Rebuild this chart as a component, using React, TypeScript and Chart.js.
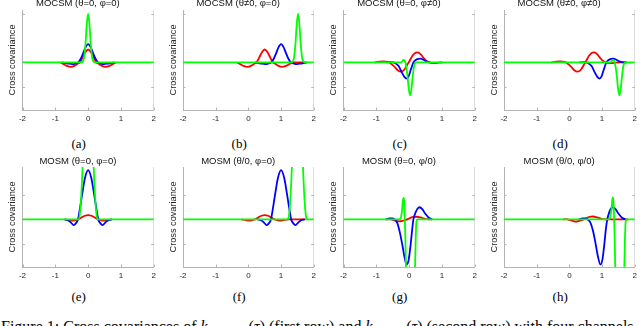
import React, { useEffect, useRef } from "react";
import { Chart, registerables } from "chart.js";

Chart.register(...registerables);

type Pt = [number, number];

// ---------- labels ----------
const X_TICKS = [-2, -1, 0, 1, 2];
const X_TICK_LABELS = ["-2", "-1", "0", "1", "2"];
const Y_TICKS_TOP = [-1, 2];
const Y_TICKS_BOTTOM = [-1, 1];
const Y_LABEL = "Cross covariance";
const TITLES = [
  "MOCSM (θ=0, φ=0)",
  "MOCSM (θ≠0, φ=0)",
  "MOCSM (θ=0, φ≠0)",
  "MOCSM (θ≠0, φ≠0)",
  "MOSM (θ=0, φ=0)",
  "MOSM (θ/0, φ=0)",
  "MOSM (θ=0, φ/0)",
  "MOSM (θ/0, φ/0)",
];
const SUBCAPTIONS = ["(a)", "(b)", "(c)", "(d)", "(e)", "(f)", "(g)", "(h)"];

// ---------- data (tau, covariance) ----------
// (a)
const A_RED: Pt[] = [[-0.85, 0], [-0.75, -0.07], [-0.65, -0.14], [-0.53, -0.18], [-0.42, -0.14], [-0.33, -0.06], [-0.25, 0], [-0.17, 0.2], [-0.08, 0.43], [0, 0.53], [0.08, 0.43], [0.17, 0.2], [0.25, 0], [0.33, -0.06], [0.42, -0.14], [0.53, -0.18], [0.65, -0.14], [0.75, -0.07], [0.85, 0]];
const A_BLUE: Pt[] = [[-0.8, 0], [-0.7, -0.02], [-0.6, -0.05], [-0.48, -0.07], [-0.38, -0.04], [-0.3, 0], [-0.22, 0.16], [-0.15, 0.38], [-0.08, 0.62], [0, 0.75], [0.08, 0.62], [0.15, 0.38], [0.22, 0.16], [0.3, 0], [0.38, -0.04], [0.48, -0.07], [0.6, -0.05], [0.7, -0.02], [0.8, 0]];
const A_GREEN: Pt[] = [[-2, 0], [-0.2, 0], [-0.16, 0.04], [-0.12, 0.23], [-0.08, 0.77], [-0.04, 1.58], [0, 2.0], [0.04, 1.58], [0.08, 0.77], [0.12, 0.23], [0.16, 0.04], [0.2, 0], [2, 0]];
// (b)
const B_RED: Pt[] = [[-0.35, 0], [-0.25, -0.07], [-0.15, -0.14], [-0.03, -0.18], [0.08, -0.14], [0.17, -0.06], [0.25, 0], [0.33, 0.2], [0.42, 0.43], [0.5, 0.53], [0.58, 0.43], [0.67, 0.2], [0.75, 0], [0.83, -0.06], [0.92, -0.14], [1.03, -0.18], [1.15, -0.14], [1.25, -0.07], [1.35, 0], [1.75, 0]];
const B_BLUE: Pt[] = [[0.2, 0], [0.3, -0.02], [0.4, -0.05], [0.52, -0.07], [0.62, -0.04], [0.7, 0], [0.78, 0.16], [0.85, 0.38], [0.92, 0.62], [1.0, 0.75], [1.08, 0.62], [1.15, 0.38], [1.22, 0.16], [1.3, 0], [1.38, -0.04], [1.48, -0.07], [1.6, -0.05], [1.7, -0.02], [1.8, 0]];
const B_GREEN: Pt[] = [[-2, 0], [1.32, 0], [1.36, 0.04], [1.4, 0.23], [1.44, 0.77], [1.48, 1.58], [1.52, 2.0], [1.56, 1.58], [1.6, 0.77], [1.64, 0.23], [1.68, 0.04], [1.72, 0], [2, 0]];
// (c)
const C_RED: Pt[] = [[-1.05, 0], [-0.9, 0.03], [-0.78, 0.04], [-0.65, 0.02], [-0.55, -0.05], [-0.45, -0.17], [-0.35, -0.32], [-0.25, -0.38], [-0.15, -0.3], [-0.05, -0.08], [0.02, 0.08], [0.1, 0.27], [0.18, 0.39], [0.25, 0.41], [0.33, 0.36], [0.42, 0.22], [0.52, 0.07], [0.6, 0], [0.7, -0.03], [0.8, -0.03], [0.9, -0.01], [1.02, 0]];
const C_BLUE: Pt[] = [[-0.7, 0], [-0.55, 0.01], [-0.42, -0.03], [-0.32, -0.15], [-0.22, -0.42], [-0.14, -0.6], [-0.08, -0.66], [-0.02, -0.58], [0.05, -0.3], [0.13, 0], [0.2, 0.1], [0.28, 0.15], [0.35, 0.16], [0.45, 0.1], [0.55, 0.03], [0.65, 0]];
const C_GREEN: Pt[] = [[-2, 0], [-0.26, 0], [-0.21, 0.04], [-0.17, 0.1], [-0.13, 0.06], [-0.09, -0.15], [-0.05, -0.55], [-0.01, -1.1], [0.03, -1.34], [0.07, -1.1], [0.11, -0.55], [0.15, -0.15], [0.19, -0.02], [0.23, 0], [2, 0]];
// (d)
const D_RED: Pt[] = [[-0.55, 0], [-0.4, 0.03], [-0.28, 0.04], [-0.15, 0.02], [-0.05, -0.05], [0.05, -0.17], [0.15, -0.32], [0.25, -0.38], [0.35, -0.3], [0.45, -0.08], [0.52, 0.08], [0.6, 0.27], [0.68, 0.39], [0.75, 0.41], [0.83, 0.36], [0.92, 0.22], [1.02, 0.07], [1.1, 0], [1.2, -0.03], [1.3, -0.03], [1.4, -0.01], [1.52, 0], [1.75, 0]];
const D_BLUE: Pt[] = [[0.3, 0], [0.45, 0.01], [0.58, -0.03], [0.68, -0.15], [0.78, -0.42], [0.86, -0.6], [0.92, -0.66], [0.98, -0.58], [1.05, -0.3], [1.13, 0], [1.2, 0.1], [1.28, 0.15], [1.35, 0.16], [1.45, 0.1], [1.55, 0.03], [1.65, 0], [1.75, 0]];
const D_GREEN: Pt[] = [[-2, 0], [1.24, 0], [1.29, 0.04], [1.33, 0.1], [1.37, 0.06], [1.41, -0.15], [1.45, -0.55], [1.49, -1.1], [1.53, -1.34], [1.57, -1.1], [1.61, -0.55], [1.65, -0.15], [1.69, -0.02], [1.73, 0], [2, 0]];
// (e)
const E_RED: Pt[] = [[-0.72, 0], [-0.6, -0.02], [-0.47, -0.05], [-0.38, -0.03], [-0.3, 0], [-0.2, 0.08], [-0.1, 0.15], [0, 0.18], [0.1, 0.15], [0.2, 0.08], [0.3, 0], [0.38, -0.03], [0.47, -0.05], [0.6, -0.02], [0.72, 0]];
const E_BLUE: Pt[] = [[-0.72, 0], [-0.62, -0.03], [-0.53, -0.12], [-0.44, -0.23], [-0.37, -0.15], [-0.31, 0], [-0.25, 0.45], [-0.18, 1.05], [-0.1, 1.68], [0, 2.02], [0.1, 1.68], [0.18, 1.05], [0.25, 0.45], [0.31, 0], [0.37, -0.15], [0.44, -0.23], [0.53, -0.12], [0.62, -0.03], [0.72, 0]];
const E_GREEN: Pt[] = [[-2, 0], [-0.3, 0], [-0.26, 0.15], [-0.22, 0.75], [-0.18, 1.8], [-0.14, 3.2], [-0.1, 4.6], [-0.05, 5.8], [0, 6.2], [0.05, 5.8], [0.1, 4.6], [0.14, 3.2], [0.18, 1.8], [0.22, 0.75], [0.26, 0.15], [0.3, 0], [2, 0]];
// (f)
const F_RED: Pt[] = [[-0.22, 0], [-0.1, -0.02], [0.03, -0.05], [0.12, -0.03], [0.2, 0], [0.3, 0.08], [0.4, 0.15], [0.5, 0.18], [0.6, 0.15], [0.7, 0.08], [0.8, 0], [0.88, -0.03], [0.97, -0.05], [1.1, -0.02], [1.22, 0], [1.75, 0]];
const F_BLUE: Pt[] = [[0.28, 0], [0.38, -0.03], [0.47, -0.12], [0.56, -0.23], [0.63, -0.15], [0.69, 0], [0.75, 0.45], [0.82, 1.05], [0.9, 1.68], [1.0, 2.02], [1.1, 1.68], [1.18, 1.05], [1.25, 0.45], [1.31, 0], [1.37, -0.15], [1.44, -0.23], [1.53, -0.12], [1.62, -0.03], [1.72, 0]];
const F_GREEN: Pt[] = [[-2, 0], [1.2, 0], [1.24, 0.15], [1.28, 0.75], [1.32, 1.8], [1.36, 3.2], [1.4, 4.6], [1.45, 5.8], [1.5, 6.2], [1.55, 5.8], [1.6, 4.6], [1.64, 3.2], [1.68, 1.8], [1.72, 0.75], [1.76, 0.15], [1.8, 0], [2, 0]];
// (g)
const G_RED: Pt[] = [[-0.7, 0], [-0.6, 0.01], [-0.5, -0.02], [-0.4, -0.06], [-0.3, -0.08], [-0.2, -0.06], [-0.1, -0.02], [0, 0.04], [0.1, 0.09], [0.23, 0.11], [0.35, 0.08], [0.45, 0.04], [0.55, 0.01], [0.7, 0]];
const G_BLUE: Pt[] = [[-0.72, 0], [-0.6, 0.04], [-0.52, 0.04], [-0.44, 0], [-0.36, -0.15], [-0.28, -0.55], [-0.2, -1.1], [-0.14, -1.55], [-0.08, -1.85], [-0.02, -1.7], [0.04, -1.1], [0.09, -0.45], [0.13, 0], [0.2, 0.3], [0.26, 0.45], [0.32, 0.5], [0.4, 0.42], [0.5, 0.22], [0.6, 0.07], [0.7, 0]];
const G_GREEN: Pt[] = [[-2, 0], [-0.3, 0], [-0.25, 0.08], [-0.21, 0.45], [-0.18, 0.88], [-0.16, 0.85], [-0.14, 0.35], [-0.12, -0.5], [-0.1, -1.8], [-0.07, -3.5], [-0.02, -5.0], [0.04, -5.5], [0.1, -5.0], [0.15, -3.5], [0.18, -2.0], [0.2, -0.8], [0.22, -0.1], [0.25, 0], [2, 0]];
// (h)
const H_RED: Pt[] = [[-0.2, 0], [-0.1, 0.01], [0, -0.02], [0.1, -0.06], [0.2, -0.09], [0.3, -0.06], [0.4, -0.02], [0.5, 0.04], [0.6, 0.1], [0.73, 0.12], [0.85, 0.08], [0.95, 0.04], [1.05, 0.01], [1.2, 0], [1.8, 0]];
const H_BLUE: Pt[] = [[0.28, 0], [0.4, 0.04], [0.48, 0.04], [0.56, 0], [0.64, -0.12], [0.72, -0.45], [0.8, -0.98], [0.87, -1.5], [0.95, -1.85], [1.01, -1.65], [1.07, -1.0], [1.12, -0.35], [1.16, 0], [1.22, 0.3], [1.27, 0.45], [1.33, 0.5], [1.41, 0.42], [1.51, 0.22], [1.61, 0.07], [1.72, 0]];
const H_GREEN: Pt[] = [[-2, 0], [1.2, 0], [1.25, 0.08], [1.29, 0.45], [1.32, 0.9], [1.34, 0.85], [1.36, 0.35], [1.38, -0.5], [1.4, -1.8], [1.43, -3.5], [1.48, -5.0], [1.54, -5.5], [1.6, -5.0], [1.65, -3.5], [1.68, -2.0], [1.7, -0.8], [1.72, -0.1], [1.75, 0], [2, 0]];

const PANEL_DATA: [Pt[], Pt[], Pt[]][] = [
  [A_RED, A_BLUE, A_GREEN],
  [B_RED, B_BLUE, B_GREEN],
  [C_RED, C_BLUE, C_GREEN],
  [D_RED, D_BLUE, D_GREEN],
  [E_RED, E_BLUE, E_GREEN],
  [F_RED, F_BLUE, F_GREEN],
  [G_RED, G_BLUE, G_GREEN],
  [H_RED, H_BLUE, H_GREEN],
];

// ---------- styling / layout ----------
const SANS = "'Liberation Sans', Arial, Helvetica, sans-serif";
const SERIF = "'Liberation Serif', 'Times New Roman', serif";
const AXIS_COLOR = "#b4b4b4";
const RIGHT_COLOR = "#dcdcdc";
const TEXT_COLOR = "#262626";
const Y_MIN = -1.95;
const Y_MAX = 2.15;
const PLOT_LEFTS = [22.5, 183, 343.5, 504];
const PLOT_W = 133.3;
const CANVAS_W = 160;
const CANVAS_H = 128;
const X_AXIS_H = 16;
const ROWS = [
  { canvasTop: -2, titlePadTop: 0, titlePadBottom: 0.6, subTop: 137, yTicks: Y_TICKS_TOP },
  { canvasTop: 155, titlePadTop: 0.3, titlePadBottom: 0.3, subTop: 289.5, yTicks: Y_TICKS_BOTTOM },
];

const inwardTicks = {
  id: "inwardTicks",
  beforeDatasetsDraw(chart: any, _args: any, opts: any) {
    const { ctx, chartArea, scales } = chart;
    const { left, right, top, bottom } = chartArea;
    const xs = scales.x;
    const ys = scales.y;
    ctx.save();
    ctx.lineWidth = 1;
    // right border
    ctx.strokeStyle = RIGHT_COLOR;
    const rx = Math.round(right) - 0.5;
    ctx.beginPath();
    ctx.moveTo(rx, top);
    ctx.lineTo(rx, bottom);
    ctx.stroke();
    ctx.strokeStyle = AXIS_COLOR;
    ctx.beginPath();
    X_TICKS.forEach((v) => {
      const px = Math.round(xs.getPixelForValue(v)) + 0.5;
      ctx.moveTo(px, bottom);
      ctx.lineTo(px, bottom - 2.5);
    });
    (opts.yTicks || []).forEach((v: number) => {
      const py = Math.round(ys.getPixelForValue(v)) + 0.5;
      ctx.moveTo(left, py);
      ctx.lineTo(left + 2.5, py);
      ctx.moveTo(right, py);
      ctx.lineTo(right - 2.5, py);
    });
    ctx.stroke();
    ctx.restore();
  },
};

function Panel({ index }: { index: number }) {
  const ref = useRef<HTMLCanvasElement>(null);
  const row = ROWS[index < 4 ? 0 : 1];
  const col = index % 4;
  const plotLeft = PLOT_LEFTS[col];
  const canvasLeft = Math.floor(plotLeft - 22.5);
  const yAxisW = plotLeft - canvasLeft;
  const rightPad = CANVAS_W - yAxisW - PLOT_W;

  useEffect(() => {
    const [red, blue, green] = PANEL_DATA[index];
    const toXY = (pts: Pt[]) => pts.map(([x, y]) => ({ x, y }));
    const common = {
      pointRadius: 0,
      borderWidth: 1.8,
      fill: false,
      cubicInterpolationMode: "monotone" as const,
    };
    const chart = new Chart(ref.current as HTMLCanvasElement, {
      type: "line",
      data: {
        datasets: [
          { ...common, data: toXY(red), borderColor: "#ff0000", order: 3 },
          { ...common, data: toXY(blue), borderColor: "#0000ff", order: 2 },
          { ...common, data: toXY(green), borderColor: "#00ff00", order: 1 },
        ],
      },
      options: {
        animation: false,
        responsive: false,
        maintainAspectRatio: false,
        events: [],
        layout: { padding: { left: 0, right: rightPad, top: 0, bottom: 0 } },
        plugins: {
          legend: { display: false },
          tooltip: { enabled: false },
          title: {
            display: true,
            text: TITLES[index],
            color: "#111111",
            font: { family: SANS, size: 9.5, weight: "normal" },
            padding: { top: row.titlePadTop, bottom: row.titlePadBottom },
          },
          inwardTicks: { yTicks: row.yTicks },
        } as any,
        scales: {
          x: {
            type: "linear",
            min: -2,
            max: 2,
            afterBuildTicks: (s: any) => {
              s.ticks = X_TICKS.map((v) => ({ value: v }));
            },
            afterFit: (s: any) => {
              s.height = X_AXIS_H;
            },
            ticks: {
              autoSkip: false,
              maxRotation: 0,
              padding: 4,
              color: TEXT_COLOR,
              font: { family: SANS, size: 8 },
              callback: (_v: any, i: number) => X_TICK_LABELS[i],
            },
            grid: { display: false, drawTicks: false },
            border: { display: true, color: AXIS_COLOR, width: 1 },
          },
          y: {
            type: "linear",
            min: Y_MIN,
            max: Y_MAX,
            afterFit: (s: any) => {
              s.width = yAxisW;
            },
            ticks: { display: false },
            grid: { display: false, drawTicks: false },
            border: { display: true, color: AXIS_COLOR, width: 1 },
            title: {
              display: true,
              text: Y_LABEL,
              color: TEXT_COLOR,
              font: { family: SANS, size: 9.2 },
              padding: { top: yAxisW - 15.4, bottom: 0 },
            },
          },
        },
      } as any,
      plugins: [inwardTicks as any],
    });
    return () => chart.destroy();
  }, [index]);

  return (
    <canvas
      ref={ref}
      width={CANVAS_W}
      height={CANVAS_H}
      style={{
        position: "absolute",
        left: canvasLeft,
        top: row.canvasTop,
        width: CANVAS_W,
        height: CANVAS_H,
      }}
    />
  );
}

export default function App() {
  return (
    <div
      style={{
        position: "fixed",
        left: 0,
        top: 0,
        width: 640,
        height: 326,
        overflow: "hidden",
        background: "#ffffff",
      }}
    >
      {SUBCAPTIONS.map((_, i) => (
        <Panel key={"p" + i} index={i} />
      ))}
      {SUBCAPTIONS.map((s, i) => {
        const row = ROWS[i < 4 ? 0 : 1];
        const cx = PLOT_LEFTS[i % 4] + PLOT_W / 2 - 10.5;
        return (
          <div
            key={"s" + i}
            style={{
              position: "absolute",
              left: cx - 20,
              width: 40,
              top: row.subTop,
              textAlign: "center",
              fontFamily: SERIF,
              fontSize: 13,
              lineHeight: "13px",
              color: "#000",
            }}
          >
            {s}
          </div>
        );
      })}
      <div
        style={{
          position: "absolute",
          left: 1,
          top: 319.2,
          whiteSpace: "nowrap",
          fontFamily: SERIF,
          fontSize: 16,
          lineHeight: "16px",
          color: "#000",
        }}
      >
        Figure 1: Cross covariances of <i>k</i>
        <sub style={{ fontSize: 11 }}>MOCSM</sub>(<i>τ</i>) (first row) and <i>k</i>
        <sub style={{ fontSize: 11 }}>MOSM</sub>(<i>τ</i>) (second row) with four channels
      </div>
    </div>
  );
}
